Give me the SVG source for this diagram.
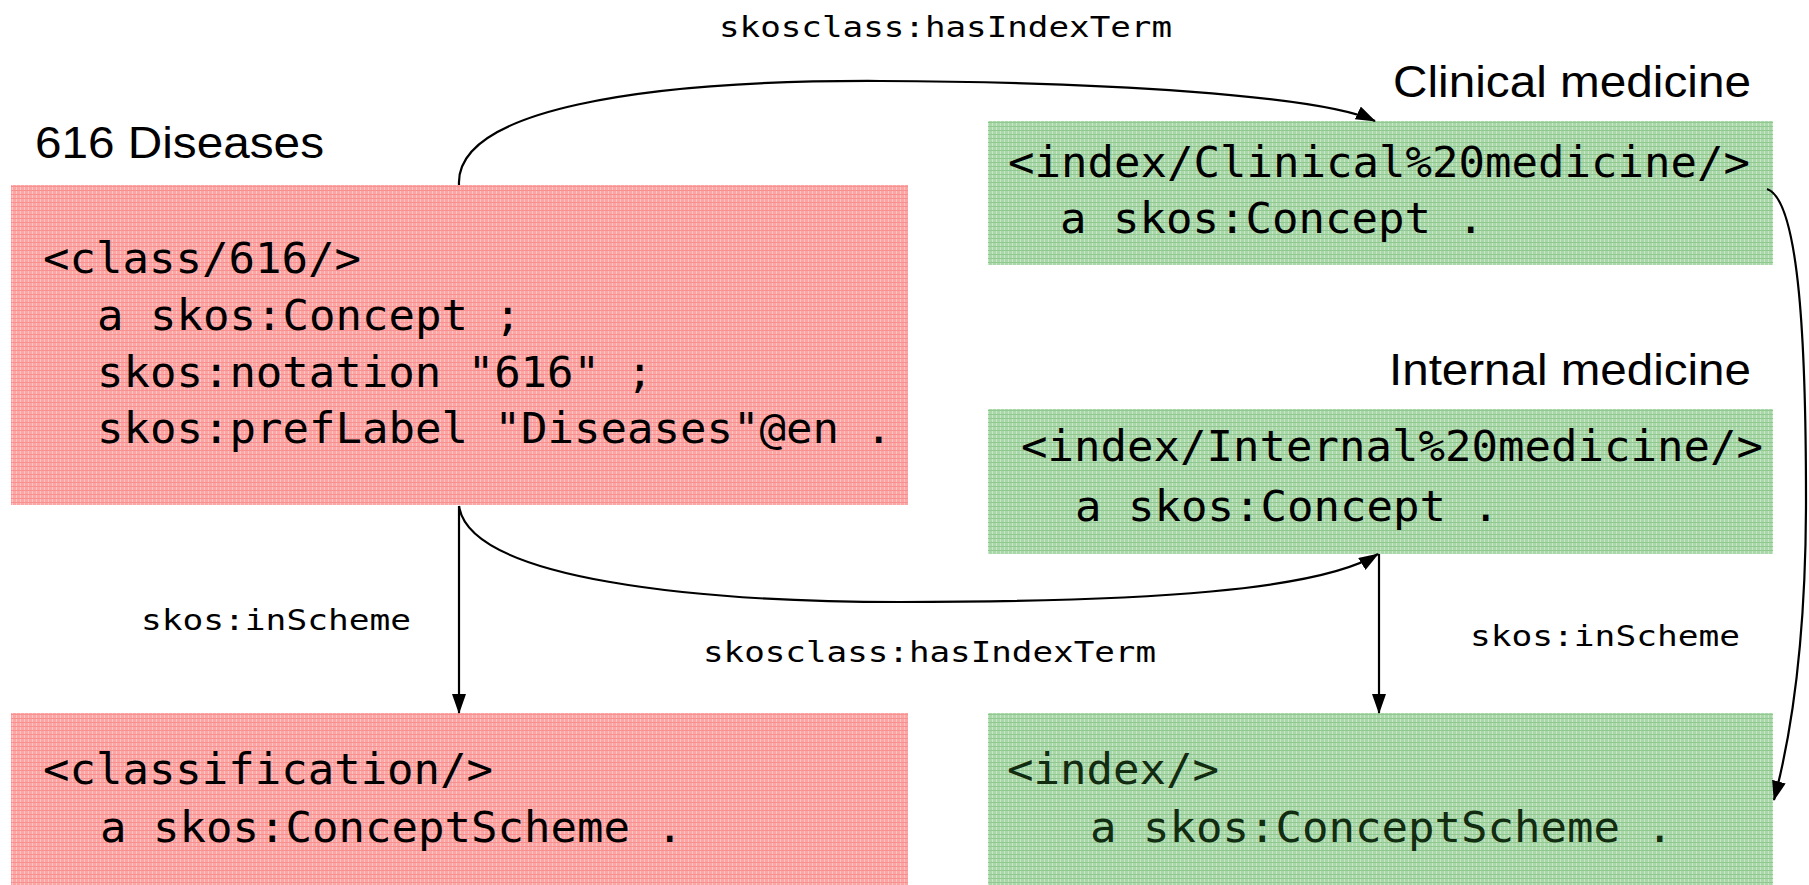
<svg xmlns="http://www.w3.org/2000/svg" width="1809" height="885" viewBox="0 0 1809 885">
<defs>
<style>
.mono{font-family:"DejaVu Sans Mono","Liberation Mono",monospace;font-size:43px;fill:#000}
.lbl{font-family:"DejaVu Sans Mono","Liberation Mono",monospace;font-size:29px;fill:#000}
.title{font-family:"Liberation Sans",Arial,sans-serif;font-size:44px;fill:#000}
.conn{fill:none;stroke:#000;stroke-width:2.2}
</style>
<pattern id="pinkFill" width="4" height="4" patternUnits="userSpaceOnUse">
<rect width="4" height="4" fill="#fba5a5"/>
<rect x="0" y="0" width="1" height="4" fill="#ffc4c4"/>
<rect x="0" y="2" width="4" height="1" fill="#f89090"/>
</pattern>
<pattern id="greenFill" width="4" height="4" patternUnits="userSpaceOnUse">
<rect width="4" height="4" fill="#a9d7a9"/>
<rect x="0" y="0" width="1" height="4" fill="#c6e6c6"/>
<rect x="0" y="2" width="4" height="1" fill="#90c890"/>
</pattern>
<marker id="arrow" markerUnits="userSpaceOnUse" markerWidth="20" markerHeight="14" refX="19" refY="7" orient="auto">
<path d="M0,0 L20,7 L0,14 z" fill="#000"/>
</marker>
</defs>

<g id="class616">
<text class="title" x="35" y="158" textLength="289" lengthAdjust="spacingAndGlyphs">616 Diseases</text>
<rect x="11" y="185" width="897" height="320" fill="url(#pinkFill)"/>
<text class="mono" x="43" y="273" textLength="318" lengthAdjust="spacingAndGlyphs">&lt;class/616/&gt;</text>
<text class="mono" x="97" y="330" textLength="424" lengthAdjust="spacingAndGlyphs">a skos:Concept ;</text>
<text class="mono" x="97" y="387" textLength="556" lengthAdjust="spacingAndGlyphs">skos:notation "616" ;</text>
<text class="mono" x="97" y="443" textLength="795" lengthAdjust="spacingAndGlyphs">skos:prefLabel "Diseases"@en .</text>
</g>

<g id="classification">
<rect x="11" y="713" width="897" height="172" fill="url(#pinkFill)"/>
<text class="mono" x="43" y="784" textLength="450" lengthAdjust="spacingAndGlyphs">&lt;classification/&gt;</text>
<text class="mono" x="100" y="842" textLength="583" lengthAdjust="spacingAndGlyphs">a skos:ConceptScheme .</text>
</g>

<g id="clinicalMedicine">
<text class="title" x="1393" y="97" textLength="358" lengthAdjust="spacingAndGlyphs">Clinical medicine</text>
<rect x="988" y="121" width="785" height="144" fill="url(#greenFill)"/>
<text class="mono" x="1008" y="177" textLength="742" lengthAdjust="spacingAndGlyphs">&lt;index/Clinical%20medicine/&gt;</text>
<text class="mono" x="1060" y="233" textLength="424" lengthAdjust="spacingAndGlyphs">a skos:Concept .</text>
</g>

<g id="internalMedicine">
<text class="title" x="1389" y="385" textLength="362" lengthAdjust="spacingAndGlyphs">Internal medicine</text>
<rect x="988" y="409" width="785" height="145" fill="url(#greenFill)"/>
<text class="mono" x="1021" y="461" textLength="742" lengthAdjust="spacingAndGlyphs">&lt;index/Internal%20medicine/&gt;</text>
<text class="mono" x="1075" y="521" textLength="424" lengthAdjust="spacingAndGlyphs">a skos:Concept .</text>
</g>

<g id="index">
<rect x="988" y="713" width="785" height="172" fill="url(#greenFill)"/>
<text class="mono" x="1007" y="784" textLength="212" lengthAdjust="spacingAndGlyphs" style="fill:#122c12">&lt;index/&gt;</text>
<text class="mono" x="1090" y="842" textLength="583" lengthAdjust="spacingAndGlyphs" style="fill:#122c12">a skos:ConceptScheme .</text>
</g>

<g id="connectors">
<path class="conn" d="M459,185 C455,110 640,80 880,81 C1100,82 1320,95 1375,121" marker-end="url(#arrow)"/>
<path class="conn" d="M459,506 C470,580 700,602 900,602 C1150,602 1320,590 1378,554" marker-end="url(#arrow)"/>
<path class="conn" d="M459,506 L459,713" marker-end="url(#arrow)"/>
<path class="conn" d="M1379,554 L1379,713" marker-end="url(#arrow)"/>
<path class="conn" d="M1767,189 C1800,200 1806,350 1806,500 C1806,650 1790,740 1774,800" marker-end="url(#arrow)"/>
<text class="lbl" x="719" y="37" textLength="453" lengthAdjust="spacingAndGlyphs">skosclass:hasIndexTerm</text>
<text class="lbl" x="141" y="630" textLength="270" lengthAdjust="spacingAndGlyphs">skos:inScheme</text>
<text class="lbl" x="703" y="662" textLength="453" lengthAdjust="spacingAndGlyphs">skosclass:hasIndexTerm</text>
<text class="lbl" x="1470" y="646" textLength="270" lengthAdjust="spacingAndGlyphs">skos:inScheme</text>
</g>
</svg>
